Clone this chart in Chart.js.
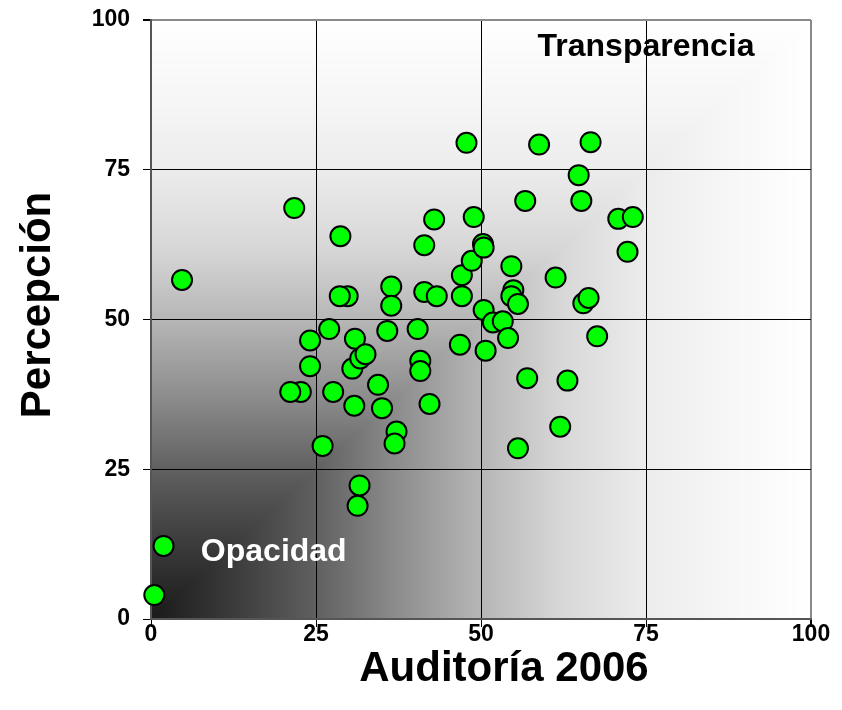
<!DOCTYPE html>
<html lang="es">
<head>
<meta charset="utf-8">
<title>Auditoría 2006 / Percepción</title>
<script src="https://cdn.jsdelivr.net/npm/chart.js@4.4.1/dist/chart.umd.min.js"></script>
<style>
  html, body { margin: 0; padding: 0; background: #fff; }
  .chart-box { width: 842px; height: 710px; }
</style>
</head>
<body>
<div class="chart-box"><canvas id="scatter-chart"></canvas></div>
<script>
// Datos
const auditoria = [0.5, 1.9, 4.7, 22.7, 21.1, 21.7, 24.1, 24.1, 26.0, 27.0, 27.6, 28.7, 29.8, 28.6, 30.9, 30.5, 31.7, 32.5, 30.8, 31.6, 31.3, 34.4, 35.0, 35.8, 36.4, 36.4, 37.2, 36.9, 40.4, 40.8, 40.8, 41.4, 43.3, 41.4, 42.9, 42.2, 46.8, 47.1, 47.1, 47.8, 48.6, 48.9, 50.3, 50.4, 50.4, 50.7, 51.8, 53.3, 54.1, 54.6, 54.9, 54.6, 55.6, 55.6, 56.7, 57.0, 58.8, 61.3, 62.0, 63.1, 64.8, 65.2, 65.5, 66.3, 66.6, 67.6, 70.8, 73.0, 72.2];
const percepcion = [4.0, 12.2, 56.6, 37.9, 37.9, 68.6, 46.5, 42.2, 28.9, 48.4, 37.9, 63.9, 53.9, 53.9, 46.8, 41.8, 43.5, 44.2, 35.6, 22.3, 18.9, 39.1, 35.2, 48.1, 55.5, 52.3, 31.3, 29.3, 48.4, 43.1, 41.4, 54.6, 53.9, 62.4, 66.7, 35.9, 45.8, 57.4, 53.9, 79.5, 59.8, 67.1, 62.6, 62.0, 51.6, 44.8, 49.5, 49.7, 46.9, 58.9, 54.9, 53.9, 52.6, 28.5, 69.8, 40.2, 79.2, 57.0, 32.1, 39.8, 74.1, 69.8, 52.7, 53.6, 79.6, 47.2, 66.8, 67.1, 61.3];
const tickValues = [0, 25, 50, 75, 100];
const xTitle = "Auditoría 2006";
const yTitle = "Percepción";
// End Datos

const fontFamily = "'Liberation Sans', Arial, sans-serif";

// Fondo degradado desde la esquina
const shadeStops = [[0, 26], [0.12, 58], [0.25, 96], [0.37, 140], [0.5, 182], [0.62, 215], [0.75, 236], [0.87, 246], [1, 255]];

const shadeAt = (t) => {
  for (let i = 1; i < shadeStops.length; i++) {
    const [t1, c1] = shadeStops[i];
    if (t <= t1) {
      const [t0, c0] = shadeStops[i - 1];
      return c0 + ((c1 - c0) * (t - t0)) / (t1 - t0);
    }
  }
  return 255;
};

const cornerGradient = {
  id: "cornerGradient",
  beforeDraw: (chart) => {
    const { ctx, chartArea } = chart;
    const left = Math.round(chartArea.left);
    const top = Math.round(chartArea.top);
    const w = Math.round(chartArea.right) - left;
    const h = Math.round(chartArea.bottom) - top;
    const img = ctx.createImageData(w, h);
    for (let j = 0; j < h; j++) {
      const v = 1 - j / h;
      for (let i = 0; i < w; i++) {
        const c = shadeAt(Math.max(i / w, v));
        const k = (j * w + i) * 4;
        img.data[k] = c;
        img.data[k + 1] = c;
        img.data[k + 2] = c;
        img.data[k + 3] = 255;
      }
    }
    ctx.putImageData(img, left, top);
  },
};
// End Fondo

// Etiquetas de zona y títulos de ejes
const zoneLabels = {
  id: "zoneLabels",
  afterDraw: (chart) => {
    const { ctx, scales } = chart;
    ctx.save();
    ctx.textAlign = "center";
    ctx.textBaseline = "middle";

    ctx.font = `bold 32px ${fontFamily}`;
    ctx.fillStyle = "#000";
    ctx.fillText("Transparencia", scales.x.getPixelForValue(75), scales.y.getPixelForValue(95.5));
    ctx.fillStyle = "#fff";
    ctx.fillText("Opacidad", scales.x.getPixelForValue(18.6), scales.y.getPixelForValue(11.2));

    ctx.font = `bold 42px ${fontFamily}`;
    ctx.fillStyle = "#000";
    ctx.fillText(xTitle, 504, 669);
    ctx.translate(38, 305);
    ctx.rotate(-Math.PI / 2);
    ctx.fillText(yTitle, 0, 0);
    ctx.restore();
  },
};
// End Etiquetas

const gridColor = (context) => {
  if (context.tick && context.tick.value === 100) return "#8a8a8a";
  if (context.tick && context.tick.value === 0) return "#555";
  return "#000";
};

const axisOptions = () => ({
  type: "linear",
  min: 0,
  max: 100,
  afterBuildTicks: (scale) => {
    scale.ticks = tickValues.map((value) => ({ value }));
  },
  grid: {
    color: gridColor,
    lineWidth: (context) => (context.tick && context.tick.value === 100 ? 2 : 1),
    tickColor: "#000",
    tickLength: 8,
  },
  border: { color: "#555", width: 2 },
  ticks: {
    color: "#000",
    font: { family: fontFamily, size: 23, weight: "bold", lineHeight: 1 },
    padding: -4,
  },
});

const xAxis = axisOptions();
xAxis.afterFit = (scale) => {
  scale.height = 91;
};

const yAxis = axisOptions();
yAxis.ticks.padding = 13;
yAxis.afterFit = (scale) => {
  scale.width = 151;
  scale.paddingTop = 0;
  scale.paddingBottom = 0;
};

const chartElement = document.querySelector("#scatter-chart");
if (chartElement) {
  new Chart(chartElement, {
    type: "scatter",
    data: {
      datasets: [
        {
          label: "Auditoría vs Percepción",
          data: auditoria.map((x, i) => ({ x: x, y: percepcion[i] })),
          backgroundColor: "#00ff00",
          borderColor: "#000",
          borderWidth: 2,
          pointRadius: 10,
          pointHoverRadius: 10,
          clip: false,
        },
      ],
    },
    options: {
      responsive: true,
      maintainAspectRatio: false,
      animation: false,
      layout: { padding: { top: 20, right: 31, bottom: 0, left: 0 } },
      plugins: {
        legend: { display: false },
        tooltip: { enabled: false },
      },
      scales: {
        x: xAxis,
        y: yAxis,
      },
    },
    plugins: [cornerGradient, zoneLabels],
  });
}
</script>
</body>
</html>
